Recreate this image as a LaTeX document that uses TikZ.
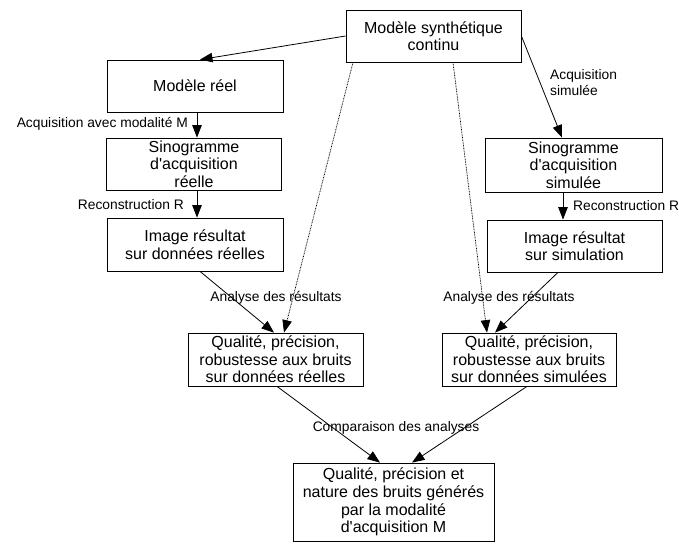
\documentclass[tikz,border=0pt]{standalone}
\usepackage{fontspec}
\setmainfont{Liberation Sans}
\usetikzlibrary{arrows.meta,calc}
\newcommand{\apos}{\textquotesingle}
\begin{document}
\begin{tikzpicture}[x=1pt,y=-1pt,
  box/.style={draw,line width=0.8pt,inner sep=0pt,align=center,
    font=\fontsize{16}{17.6}\selectfont},
  lbl/.style={inner sep=0pt,font=\fontsize{13.8}{15.2}\selectfont},
  flow/.style={line width=0.8pt,-{Triangle[length=12.5pt,width=9.5pt]}},
  dots/.style={line width=0.75pt,dash pattern=on 0.8pt off 0.8pt,-{Triangle[length=12.5pt,width=9.5pt]}}]
\useasboundingbox (0,0) rectangle (679,543);

% boxes
\node[box,minimum width=175pt,minimum height=52pt] (synth) at (433.5,36) {Modèle synthétique\\continu};
\node[box,minimum width=176pt,minimum height=52pt] (reel) at (195,86) {Modèle réel};
\node[box,minimum width=175pt,minimum height=52pt] (sinoR) at (194,164) {Sinogramme\\d\apos acquisition\\réelle};
\node[box,minimum width=176pt,minimum height=53pt] (imgR) at (195,244.5) {Image résultat\\sur données réelles};
\node[box,minimum width=177pt,minimum height=54pt] (sinoS) at (573.5,165) {Sinogramme\\d\apos acquisition\\simulée};
\node[box,minimum width=175pt,minimum height=52pt] (imgS) at (574.5,246) {Image résultat\\sur simulation};
\node[box,minimum width=175pt,minimum height=53pt] (qualR) at (275.5,359.5) {Qualité, précision,\\robustesse aux bruits\\sur données réelles};
\node[box,minimum width=174pt,minimum height=53pt] (qualS) at (529,359.5) {Qualité, précision,\\robustesse aux bruits\\sur données simulées};
\node[box,minimum width=201pt,minimum height=78pt] (final) at (393.5,502) {Qualité, précision et\\nature des bruits générés\\par la modalité\\d\apos acquisition M};

% labels
\node[lbl,anchor=east] (lacq) at (188,124) {Acquisition avec modalité M};
\node[lbl,anchor=east] (lrecR) at (184,205) {Reconstruction R};
\node[lbl,anchor=west,align=left] (lacqS) at (550,82.5) {Acquisition\\simulée};
\node[lbl,anchor=west] (lrecS) at (573,206) {Reconstruction R};
\node[lbl] (lanR) at (276,298) {Analyse des résultats};
\node[lbl] (lanS) at (509,298) {Analyse des résultats};
\node[lbl] (lcmp) at (396,428) {Comparaison des analyses};

% connectors
\draw[flow] (synth.west) -- ($(reel.north)+(5,0)$);
\draw[flow] (synth.east) -- ($(sinoS.north)+(-11.5,0)$);
\draw[flow] ($(reel.south)+(2,0)$) -- ($(sinoR.north)+(3,0)$);
\draw[flow] ($(sinoR.south)+(3,0)$) -- ($(imgR.north)+(2,0)$);
\draw[flow] ($(sinoS.south)+(-10.5,0)$) -- ($(imgS.north)+(-11.5,0)$);
\draw[flow] ($(imgR.south)+(5,0)$) -- ($(qualR.north)+(-1.5,0)$);
\draw[flow] ($(imgS.south)+(-16.5,0)$) -- ($(qualS.north)+(-34,0)$);
\draw[dots] ($(synth.south)+(-80.5,0)$) -- ($(qualR.north)+(8.5,0)$);
\draw[dots] ($(synth.south)+(19.5,0)$) -- ($(qualS.north)+(-42,0)$);
\draw[flow] ($(qualR.south)+(1.5,0)$) -- ($(final.north)+(-13.5,0)$);
\draw[flow] ($(qualS.south)+(-2,0)$) -- ($(final.north)+(18.5,0)$);
\end{tikzpicture}
\end{document}
